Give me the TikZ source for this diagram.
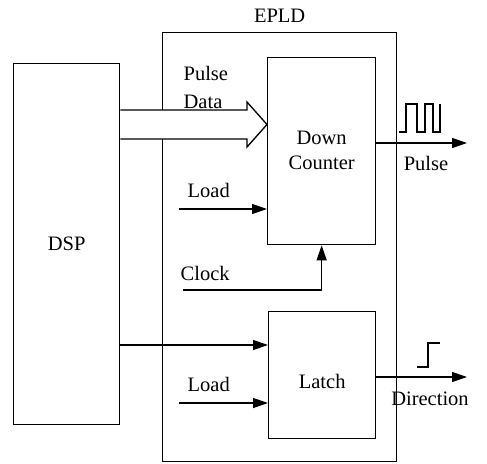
\documentclass[tikz,border=0pt]{standalone}
\usepackage{fontspec}
\setmainfont{Liberation Serif}
\usetikzlibrary{arrows.meta}
\begin{document}
\begin{tikzpicture}[x=1pt,y=-1pt,
  line width=1.3pt,
  every node/.style={font=\fontsize{20.5}{24}\selectfont, inner sep=0pt},
  box/.style={draw, anchor=north west},
  arr/.style={-{Triangle[length=15pt,width=10pt]}},
  wave/.style={line width=1.1pt},
  lbl/.style={anchor=base west}]
\useasboundingbox (0,0) rectangle (487,463);
% boxes
\node[box, minimum width=106pt, minimum height=361pt] (dsp) at (13,63) {};
\node at (dsp.center) {DSP};
\node[box, minimum width=234pt, minimum height=429pt] (epld) at (162,32) {};
\node[anchor=base] (epldlbl) at (epld.north |- 0,22) {EPLD};
\node[box, minimum width=108pt, minimum height=187pt] (cnt) at (267,57) {};
\node[align=center] at ([yshift=1pt]cnt.center) {Down\\[1pt]Counter};
\node[box, minimum width=107pt, minimum height=127pt] (lat) at (268,311) {};
\node at ([yshift=-6pt]lat.center) {Latch};
% hollow data arrow
\coordinate (d1) at (dsp.east |- 0,110);
\coordinate (d2) at (dsp.east |- 0,139);
\coordinate (tip) at (cnt.west |- 0,124.5);
\filldraw[fill=white, line join=miter] (d1) -- (247,110) -- (247,102) -- (tip) -- (247,147) -- (247,139) -- (d2);
\node[lbl] (pd) at (183,80) {Pulse};
\node[lbl] (pd2) at (183,108) {Data};
% load 1
\node[lbl] (ld1) at (187,197) {Load};
\coordinate (l1) at (179,209);
\draw[arr] (l1) -- (l1 -| cnt.west);
% clock
\node[lbl] (clk) at (180,280) {Clock};
\coordinate (ck) at (183,290);
\draw[arr] (ck) -| (cnt.south);
% dsp to latch
\draw[arr] (dsp.east |- 0,345) -- (lat.west |- 0,345);
% load 2
\node[lbl] (ld2) at (187,391) {Load};
\coordinate (l2) at (179,403);
\draw[arr] (l2) -- (l2 -| lat.west);
% pulse output
\coordinate (po) at (467,143);
\draw[arr] (cnt.east |- po) -- (po);
\node[anchor=base] (plbl) at (426,170) {Pulse};
\draw[wave] (399,132) -- (406,132) -- (406,104) -- (417,104) -- (417,132) -- (425,132) -- (425,104) -- (433,104) -- (433,132) -- (440,132) -- (440,104);
% direction output
\coordinate (dout) at (467,377);
\draw[arr] (lat.east |- dout) -- (dout);
\node[anchor=base] (dlbl) at (430,405) {Direction};
\draw[wave] (417,367) -- (428,367) -- (428,343) -- (440,343);
\end{tikzpicture}
\end{document}
